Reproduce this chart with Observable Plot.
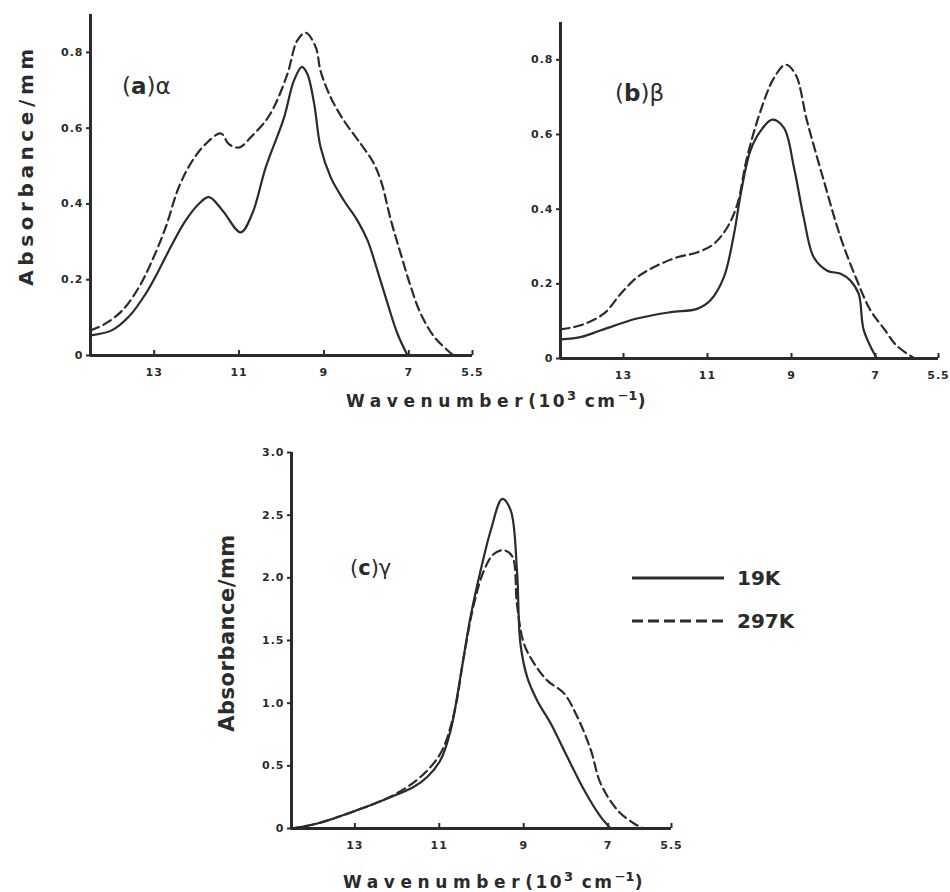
<!DOCTYPE html>
<html><head><meta charset="utf-8">
<script src="https://cdn.jsdelivr.net/npm/d3@7"></script>
<script src="https://cdn.jsdelivr.net/npm/@observablehq/plot@0.6"></script>
<style>
body{margin:0;background:#fff;}
#fig{position:relative;width:950px;height:892px;background:#fff;font-family:"DejaVu Sans",sans-serif;color:#2b2b2b;overflow:hidden;}
.panel{position:absolute;}
.lbl{position:absolute;white-space:nowrap;line-height:1;}
.b{font-weight:bold;}
.unit{letter-spacing:2.5px;}
.sup{font-size:21px;letter-spacing:0;}
</style></head><body><div id="fig"></div>
<script>
// ---- data (wavenumber in 10^3 cm^-1, absorbance per mm) ----
const xTicks = [13, 11, 9, 7, 5.5];
const yTicksAB = [0, 0.2, 0.4, 0.6, 0.8];
const yTicksC = [0, 0.5, 1.0, 1.5, 2.0, 2.5, 3.0];
const legendLabels = ["19K", "297K"];

// (a) alpha
const a19W = [14.45, 13.99, 13.6, 13.2, 12.89, 12.57, 12.26, 11.95, 11.71, 11.39, 10.96, 10.69, 10.37, 9.94, 9.71, 9.52, 9.39, 9.23, 9.08, 8.84, 8.53, 8.21, 7.97, 7.74, 7.5, 7.27, 7.03];
const a19V = [0.054, 0.067, 0.102, 0.163, 0.225, 0.295, 0.356, 0.4, 0.418, 0.383, 0.325, 0.374, 0.497, 0.628, 0.725, 0.762, 0.743, 0.664, 0.55, 0.47, 0.409, 0.356, 0.303, 0.224, 0.137, 0.058, 0];
const a297W = [14.5, 14.15, 13.75, 13.36, 13.05, 12.73, 12.42, 12.1, 11.79, 11.43, 11.24, 11.0, 10.69, 10.37, 10.18, 9.86, 9.63, 9.43, 9.19, 9.08, 8.84, 8.53, 8.13, 7.86, 7.66, 7.42, 7.19, 6.95, 6.72, 6.4, 6.09, 5.94];
const a297V = [0.066, 0.084, 0.119, 0.18, 0.25, 0.338, 0.444, 0.514, 0.558, 0.586, 0.558, 0.549, 0.58, 0.62, 0.655, 0.743, 0.831, 0.852, 0.813, 0.751, 0.681, 0.62, 0.558, 0.514, 0.462, 0.356, 0.268, 0.18, 0.11, 0.049, 0.014, 0];

// (b) beta
const b19W = [14.5, 14.0, 13.55, 12.68, 11.88, 11.25, 10.93, 10.61, 10.37, 10.21, 9.98, 9.74, 9.46, 9.18, 8.94, 8.71, 8.47, 8.15, 7.83, 7.6, 7.4, 7.28, 6.97];
const b19V = [0.051, 0.058, 0.075, 0.107, 0.124, 0.133, 0.156, 0.218, 0.333, 0.44, 0.556, 0.609, 0.64, 0.618, 0.511, 0.378, 0.271, 0.235, 0.227, 0.209, 0.173, 0.076, 0];
const b297W = [14.5, 14.02, 13.47, 13.07, 12.67, 12.2, 11.72, 11.25, 10.85, 10.53, 10.29, 10.06, 9.74, 9.42, 9.14, 8.9, 8.63, 8.23, 7.83, 7.44, 7.12, 6.8, 6.5, 6.07];
const b297V = [0.078, 0.089, 0.12, 0.173, 0.218, 0.249, 0.271, 0.284, 0.307, 0.351, 0.413, 0.538, 0.662, 0.751, 0.787, 0.76, 0.636, 0.476, 0.324, 0.209, 0.129, 0.08, 0.035, 0];

// (c) gamma
const c19W = [14.5, 13.89, 12.94, 12.23, 11.6, 11.28, 10.97, 10.73, 10.5, 10.26, 10.02, 9.78, 9.51, 9.31, 9.16, 9.08, 8.92, 8.68, 8.36, 7.97, 7.57, 7.18, 6.94];
const c19V = [0, 0.04, 0.147, 0.24, 0.333, 0.413, 0.546, 0.785, 1.21, 1.69, 2.06, 2.38, 2.63, 2.54, 2.06, 1.48, 1.21, 1.02, 0.838, 0.572, 0.307, 0.094, 0];
const c297W = [14.5, 13.89, 12.94, 12.08, 11.44, 10.97, 10.65, 10.42, 10.18, 9.94, 9.71, 9.47, 9.27, 9.16, 9.0, 8.76, 8.44, 8.05, 7.73, 7.41, 7.18, 6.78, 6.39, 6.15];
const c297V = [0, 0.04, 0.147, 0.267, 0.413, 0.6, 0.918, 1.37, 1.79, 2.06, 2.19, 2.22, 2.17, 1.79, 1.48, 1.32, 1.18, 1.08, 0.89, 0.626, 0.36, 0.147, 0.04, 0];

const INK = "#2b2b2b";
const fmt = d => d === 0 ? "0" : d.toFixed(1);
const zip = (w, v) => w.map((x, i) => ({w: x, v: v[i]}));

function panel({w19, v19, w297, v297, yDomain, yTicks, width, height, mL, mR, mT, mB}) {
  const innerH = height - mT - mB;
  return Plot.plot({
    width, height, marginLeft: mL, marginRight: mR, marginTop: mT, marginBottom: mB,
    x: {domain: [14.5, 5.5]},
    y: {domain: yDomain},
    style: {background: "transparent", color: INK, fontFamily: "DejaVu Sans, sans-serif", letterSpacing: "1px", overflow: "visible"},
    marks: [
      Plot.axisX(xTicks, {tickSize: 0, tickPadding: 13, tickFormat: d => String(d), fontSize: 11, fontWeight: "bold", label: null}),
      Plot.tickX(xTicks, {insetTop: innerH - 5, stroke: INK, strokeWidth: 2}),
      Plot.axisY(yTicks, {tickSize: 4, tickPadding: 3, tickFormat: fmt, fontSize: 11, fontWeight: "bold", strokeWidth: 2, label: null}),
      Plot.ruleY([0], {stroke: INK, strokeWidth: 3}),
      Plot.ruleX([14.5], {stroke: INK, strokeWidth: 3}),
      Plot.line(zip(w19, v19), {x: "w", y: "v", curve: "catmull-rom", stroke: INK, strokeWidth: 2.2}),
      Plot.line(zip(w297, v297), {x: "w", y: "v", curve: "catmull-rom", stroke: INK, strokeWidth: 2.2, strokeDasharray: "9,5"})
    ]
  });
}

const fig = document.getElementById("fig");
function place(el, left, top) {
  const d = document.createElement("div");
  d.className = "panel";
  d.style.left = left + "px"; d.style.top = top + "px";
  d.appendChild(el); fig.appendChild(d);
}

place(panel({w19: a19W, v19: a19V, w297: a297W, v297: a297V, yDomain: [0, 0.9], yTicks: yTicksAB,
  width: 480, height: 400, mL: 90, mR: 8, mT: 14, mB: 45}), 0, 0);
place(panel({w19: b19W, v19: b19V, w297: b297W, v297: b297V, yDomain: [0, 0.9], yTicks: yTicksAB,
  width: 480, height: 400, mL: 90, mR: 12, mT: 22, mB: 42}), 470, 0);
place(panel({w19: c19W, v19: c19V, w297: c297W, v297: c297V, yDomain: [0, 3], yTicks: yTicksC,
  width: 500, height: 452, mL: 91, mR: 29, mT: 12, mB: 64}), 200, 440);

function label(html, cx, cy, css) {
  const d = document.createElement("div");
  d.className = "lbl";
  d.innerHTML = html;
  d.style.left = cx + "px"; d.style.top = cy + "px";
  Object.assign(d.style, css);
  fig.appendChild(d);
  return d;
}
// axis titles
label("Absorbance/mm", 26, 165, {fontSize: "20px", fontWeight: "bold", letterSpacing: "4.6px", transform: "translate(-50%,-50%) rotate(-90deg)"});
label("Absorbance/mm", 227, 633, {fontSize: "21px", fontWeight: "bold", letterSpacing: "0.5px", transform: "translate(-50%,-50%) rotate(-90deg)"});
const xTitle = 'Wavenumber<span class="unit">(10<span class="sup">³</span> cm<span class="sup">⁻¹</span>)</span>';
label(xTitle, 497, 400, {fontSize: "17px", fontWeight: "bold", letterSpacing: "5.6px", transform: "translate(-50%,-50%)"});
label(xTitle, 494, 881, {fontSize: "17px", fontWeight: "bold", letterSpacing: "5.6px", transform: "translate(-50%,-50%)"});
// panel titles
label('(<span class="b">a</span>)α', 122, 86, {fontSize: "23px", transform: "translate(0,-50%)"});
label('(<span class="b">b</span>)β', 615, 93, {fontSize: "23px", transform: "translate(0,-50%)"});
label('(<span class="b">c</span>)γ', 350, 568, {fontSize: "21px", transform: "translate(0,-50%)"});

// legend
function legendRow(dash, cy, text) {
  const svg = d3.create("svg").attr("width", 92).attr("height", 6)
    .style("position", "absolute").style("left", "632px").style("top", (cy - 3) + "px");
  svg.append("line").attr("x1", 0).attr("x2", 92).attr("y1", 3).attr("y2", 3)
    .attr("stroke", INK).attr("stroke-width", 3).attr("stroke-dasharray", dash);
  fig.appendChild(svg.node());
  label(text, 737, cy, {fontSize: "20px", fontWeight: "bold", transform: "translate(0,-50%)"});
}
legendRow(null, 578, legendLabels[0]);
legendRow("11,5", 621, legendLabels[1]);
</script>
</body></html>
